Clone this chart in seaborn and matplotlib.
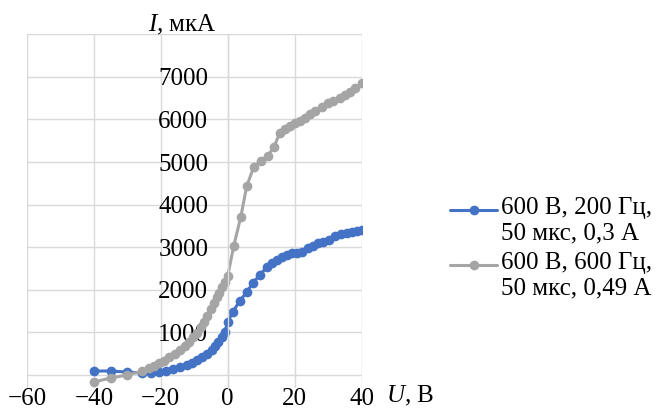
import numpy as np
import pandas as pd
import seaborn as sns
import matplotlib
matplotlib.use("Agg")
import matplotlib.pyplot as plt
from matplotlib.lines import Line2D
from matplotlib.legend_handler import HandlerLine2D

# 600 В, 200 Гц, 50 мкс, 0,3 А
u_blue = [-40, -35, -30, -25.5, -22.8, -20.4, -18.3, -16.5, -14.4, -12.3, -10.8,
          -9.3, -7.8, -6.3, -4.8, -3.9, -3.0, -1.8, -0.9, 0, 1.5, 3.6, 5.7, 7.5,
          9.6, 11.7, 13.2, 14.7, 16.2, 17.7, 19.2, 20.8, 22.3, 24.1, 25.6, 27.1,
          28.6, 30.4, 32.2, 34.0, 35.8, 37.3, 38.8, 40]
i_blue = [94, 94, 70, 47, 47, 70, 94, 141, 188, 235, 282,
          352, 423, 493, 587, 681, 775, 892, 1009, 1244, 1479, 1737, 1948, 2160,
          2347, 2535, 2629, 2700, 2770, 2817, 2864, 2864, 2887, 2981, 3028, 3099,
          3122, 3169, 3263, 3310, 3333, 3357, 3380, 3404]

# 600 В, 600 Гц, 50 мкс, 0,49 А
u_gray = [-40, -35, -30, -25.5, -23.4, -21.9, -20.4, -18.9, -17.4, -15.9, -14.4,
          -12.9, -11.7, -10.5, -9.3, -8.1, -7.2, -6.3, -5.1, -4.2, -3.3, -2.7,
          -1.8, -0.9, 0, 1.8, 3.9, 5.7, 7.8, 9.9, 12.0, 13.8, 15.6, 17.1, 18.6,
          20.2, 21.7, 23.2, 24.7, 26.2, 28.3, 30.1, 31.6, 33.7, 35.2, 36.7, 38.2, 40]
i_gray = [-164, -70, 0, 94, 164, 211, 282, 329, 423, 493, 587,
          681, 775, 892, 986, 1127, 1244, 1385, 1549, 1690, 1820, 1925,
          2066, 2183, 2324, 3028, 3709, 4437, 4883, 5023, 5141, 5352, 5681, 5775, 5845,
          5915, 5962, 6033, 6127, 6197, 6291, 6385, 6432, 6502, 6573, 6643, 6737, 6854]

labels = ["600 В, 200 Гц,\n50 мкс, 0,3 А", "600 В, 600 Гц,\n50 мкс, 0,49 А"]
colors = ["#4472C4", "#A5A5A5"]

x_ticks = [-60, -40, -20, 0, 20, 40]
x_ticklabels = ["\u221260", "\u221240", "\u221220", "0", "20", "40"]
y_ticks = [0, 1000, 2000, 3000, 4000, 5000, 6000, 7000, 8000]
y_ticklabels = ["", "1000", "2000", "3000", "4000", "5000", "6000", "7000", ""]


# put the legend marker next to the first line of a two-line label
class FirstLineHandler(HandlerLine2D):
    def create_artists(self, legend, orig_handle, xdescent, ydescent, width,
                       height, fontsize, trans):
        arts = super().create_artists(legend, orig_handle, xdescent, ydescent,
                                      width, height, fontsize, trans)
        for a in arts:
            a.set_ydata(np.asarray(a.get_ydata()) + 0.4 * fontsize)
        return arts


sns.set_style("white")
plt.rcParams["font.family"] = ["Liberation Serif", "DejaVu Serif"]
plt.rcParams["mathtext.fontset"] = "custom"
plt.rcParams["mathtext.rm"] = "Liberation Serif"
plt.rcParams["mathtext.it"] = "Liberation Serif:italic"
plt.rcParams["font.size"] = 18
plt.rcParams["text.color"] = "black"
plt.rcParams["axes.labelcolor"] = "black"
plt.rcParams["xtick.color"] = "black"
plt.rcParams["ytick.color"] = "black"

df = pd.concat([
    pd.DataFrame({"U": u_blue, "I": i_blue, "series": labels[0]}),
    pd.DataFrame({"U": u_gray, "I": i_gray, "series": labels[1]}),
])

fig = plt.figure(figsize=(6.6, 4.09), dpi=100)
ax = fig.add_axes([27 / 660, 1 - 387.8 / 409, 334.5 / 660, 353.6 / 409])

sns.lineplot(data=df, x="U", y="I", hue="series", hue_order=labels,
             palette=dict(zip(labels, colors)), marker="o", markersize=7,
             markeredgewidth=0, linewidth=2.2, errorbar=None, legend=False, ax=ax)

ax.set_xlim(-60, 40)
ax.set_ylim(-300, 8000)
ax.set_xticks(x_ticks)
ax.set_xticklabels(x_ticklabels)
ax.set_yticks(y_ticks)
ax.set_yticklabels(y_ticklabels)
ax.grid(True, color="#d9d9d9", linewidth=1.0)
ax.set_axisbelow(True)

for s in ["top", "right", "bottom"]:
    ax.spines[s].set_visible(False)
ax.spines["left"].set_position(("data", 0))
ax.spines["left"].set_color("#d9d9d9")
ax.spines["left"].set_linewidth(1.0)

ax.tick_params(axis="x", length=0, pad=0)
ax.tick_params(axis="y", length=0, pad=14)

ax.set_xlabel("$U$, В")
ax.xaxis.set_label_coords((410 - 27) / 334.5, (387.8 - 396) / 353.6)
ax.xaxis.label.set_va("center")
ax.set_ylabel("$I$, мкА", rotation=0, ha="center", va="center")
ax.yaxis.set_label_coords((182 - 27) / 334.5, (387.8 - 25) / 353.6)

leg = ax.legend(ax.lines[:2], labels, loc="upper left",
                bbox_to_anchor=(450 / 660, 1 - 197 / 409),
                bbox_transform=fig.transFigure, frameon=False,
                borderpad=0, borderaxespad=0, handlelength=1.9,
                handletextpad=0.15, labelspacing=0.3,
                handler_map={Line2D: FirstLineHandler()})
for t in leg.get_texts():
    t.set_linespacing(1.2)

fig.savefig("out.png", dpi=100)
